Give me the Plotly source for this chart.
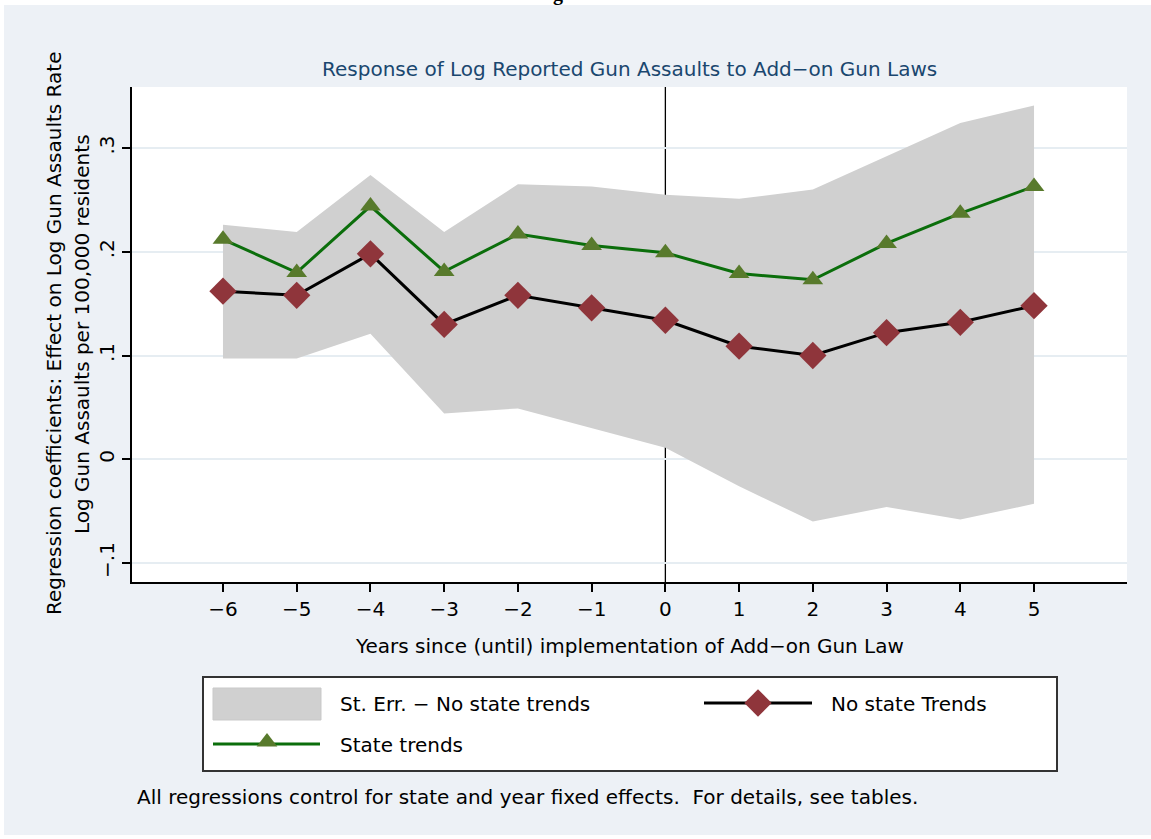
import plotly.graph_objects as go

# ---- data -------------------------------------------------------------
years = [-6, -5, -4, -3, -2, -1, 0, 1, 2, 3, 4, 5]
no_state_trends = [0.162, 0.158, 0.198, 0.130, 0.158, 0.146, 0.134, 0.109, 0.100, 0.122, 0.132, 0.148]
state_trends = [0.212, 0.180, 0.244, 0.181, 0.217, 0.206, 0.199, 0.179, 0.173, 0.208, 0.237, 0.263]
se_upper = [0.226, 0.219, 0.274, 0.219, 0.265, 0.263, 0.255, 0.251, 0.260, 0.292, 0.324, 0.341]
se_lower = [0.097, 0.097, 0.121, 0.044, 0.049, 0.030, 0.011, -0.026, -0.060, -0.046, -0.058, -0.043]

y_tick_vals = [-0.1, 0.0, 0.1, 0.2, 0.3]
y_tick_text = ["\u2212.1", "0", ".1", ".2", ".3"]
x_tick_text = [str(v).replace("-", "\u2212") for v in years]

# ---- styling ----------------------------------------------------------
W, H = 1151, 839
FONT = "DejaVu Sans, Liberation Sans, Arial, sans-serif"
FS = 20
BG = "#EDF1F6"
BAND = "#D0D0D0"
GRID = "#E6EDF2"
DIAMOND = "#8F353B"
TRI = "#587A2C"
GREEN = "#0B6E0B"
NAVY = "#1A476F"

# plot region in pixels
PX0, PX1, PY0, PY1 = 132, 1127, 87, 582
X_RANGE = [-7.234, 6.261]
Y_RANGE = [-0.1183, 0.3588]

DIAMOND_SIZE = 21
TRI_SIZE = 18


def fx(px):
    return px / W


def fy(py):
    return 1 - py / H


fig = go.Figure()

# standard-error band
fig.add_trace(go.Scatter(x=years, y=se_lower, mode="lines", line=dict(width=0, color=BAND),
                         hoverinfo="skip", showlegend=False))
fig.add_trace(go.Scatter(x=years, y=se_upper, mode="lines", line=dict(width=0, color=BAND),
                         fill="tonexty", fillcolor=BAND, name="St. Err. - No state trends",
                         showlegend=False))

# point estimates
fig.add_trace(go.Scatter(x=years, y=no_state_trends, mode="lines+markers", name="No state Trends",
                         line=dict(color="black", width=3),
                         marker=dict(symbol="diamond", size=DIAMOND_SIZE, color=DIAMOND,
                                     line=dict(width=0)),
                         showlegend=False))
fig.add_trace(go.Scatter(x=years, y=state_trends, mode="lines+markers", name="State trends",
                         line=dict(color=GREEN, width=3),
                         marker=dict(symbol="triangle-up", size=TRI_SIZE, color=TRI,
                                     line=dict(width=0)),
                         showlegend=False))

# ---- key (drawn on a pixel-space overlay axis) ------------------------
fig.add_trace(go.Scatter(x=[704, 812], y=[703, 703], xaxis="x2", yaxis="y2", mode="lines",
                         line=dict(color="black", width=3), hoverinfo="skip", showlegend=False))
fig.add_trace(go.Scatter(x=[758], y=[703], xaxis="x2", yaxis="y2", mode="markers",
                         marker=dict(symbol="diamond", size=DIAMOND_SIZE, color=DIAMOND),
                         hoverinfo="skip", showlegend=False))
fig.add_trace(go.Scatter(x=[213, 320], y=[744, 744], xaxis="x2", yaxis="y2", mode="lines",
                         line=dict(color=GREEN, width=3), hoverinfo="skip", showlegend=False))
fig.add_trace(go.Scatter(x=[267], y=[742], xaxis="x2", yaxis="y2", mode="markers",
                         marker=dict(symbol="triangle-up", size=TRI_SIZE, color=TRI),
                         hoverinfo="skip", showlegend=False))

shapes = [
    # outer white frame strips
    dict(type="rect", xref="paper", yref="paper", x0=0, x1=1, y0=fy(5), y1=1,
         fillcolor="white", line=dict(width=0), layer="below"),
    dict(type="rect", xref="paper", yref="paper", x0=0, x1=fx(4), y0=0, y1=1,
         fillcolor="white", line=dict(width=0), layer="below"),
    dict(type="rect", xref="paper", yref="paper", x0=0, x1=1, y0=0, y1=fy(835),
         fillcolor="white", line=dict(width=0), layer="below"),
    # plot region
    dict(type="rect", xref="paper", yref="paper", x0=fx(PX0), x1=fx(PX1), y0=fy(PY1), y1=fy(PY0),
         fillcolor="white", line=dict(width=0), layer="below"),
    # reference line at implementation year
    dict(type="line", xref="x", yref="paper", x0=0, x1=0, y0=fy(PY1), y1=fy(PY0),
         line=dict(color="black", width=1.3), layer="below"),
    # key box and band swatch
    dict(type="rect", xref="paper", yref="paper", x0=fx(203), x1=fx(1057), y0=fy(771), y1=fy(677),
         fillcolor="white", line=dict(color="#333333", width=2), layer="below"),
    dict(type="rect", xref="paper", yref="paper", x0=fx(213), x1=fx(321), y0=fy(720), y1=fy(688),
         fillcolor=BAND, line=dict(color="#C9C9C9", width=1), layer="below"),
]

txt = dict(family=FONT, size=FS, color="black")
annotations = [
    dict(text="Response of Log Reported Gun Assaults to Add\u2212on Gun Laws", x=fx(629), y=fy(69),
         xref="paper", yref="paper", showarrow=False, xanchor="center", yanchor="middle",
         font=dict(family=FONT, size=FS, color=NAVY)),
    dict(text="Years since (until) implementation of Add\u2212on Gun Law", x=fx(629), y=fy(646),
         xref="paper", yref="paper", showarrow=False, xanchor="center", yanchor="middle", font=txt),
    dict(text="Regression coefficients: Effect on Log Gun Assaults Rate", x=fx(54), y=fy(334),
         xref="paper", yref="paper", showarrow=False, textangle=-90, xanchor="center",
         yanchor="middle", font=txt),
    dict(text="Log Gun Assaults per 100,000 residents", x=fx(82), y=fy(334),
         xref="paper", yref="paper", showarrow=False, textangle=-90, xanchor="center",
         yanchor="middle", font=txt),
    dict(text="St. Err. \u2212 No state trends", x=fx(338), y=fy(704), xref="paper", yref="paper",
         showarrow=False, xanchor="left", yanchor="middle", font=txt),
    dict(text="No state Trends", x=fx(829), y=fy(704), xref="paper", yref="paper",
         showarrow=False, xanchor="left", yanchor="middle", font=txt),
    dict(text="State trends", x=fx(338), y=fy(745), xref="paper", yref="paper",
         showarrow=False, xanchor="left", yanchor="middle", font=txt),
    dict(text="All regressions control for state and year fixed effects.&nbsp; For details, see tables.",
         x=fx(135), y=fy(797), xref="paper", yref="paper", showarrow=False, xanchor="left",
         yanchor="middle", font=txt),
    dict(text="<b>g</b>", x=fx(558), y=fy(7), xref="paper", yref="paper", showarrow=False,
         xanchor="center", yanchor="bottom",
         font=dict(family="Liberation Serif, serif", size=20, color="black")),
]

fig.update_layout(
    width=W, height=H, autosize=False,
    margin=dict(l=0, r=0, t=0, b=0, pad=0),
    paper_bgcolor=BG, plot_bgcolor="rgba(0,0,0,0)",
    showlegend=False,
    shapes=shapes, annotations=annotations,
    xaxis=dict(domain=[fx(PX0), fx(PX1)], range=X_RANGE, tickmode="array", tickvals=years,
               ticktext=x_tick_text, ticks="outside", ticklen=8, tickwidth=1.5, tickcolor="black",
               showline=True, linecolor="black", linewidth=1.5, showgrid=False, zeroline=False,
               tickfont=txt, anchor="y", fixedrange=True),
    yaxis=dict(domain=[fy(PY1), fy(PY0)], range=Y_RANGE, tickmode="array", tickvals=y_tick_vals,
               ticktext=y_tick_text, tickangle=-90, ticks="outside", ticklen=8, tickwidth=1.5,
               tickcolor="black", showline=True, linecolor="black", linewidth=1.5,
               showgrid=True, gridcolor=GRID, gridwidth=1.5, zeroline=False,
               tickfont=txt, anchor="x", fixedrange=True),
    xaxis2=dict(domain=[0, 1], range=[0, W], visible=False, anchor="y2", fixedrange=True),
    yaxis2=dict(domain=[0, 1], range=[H, 0], visible=False, anchor="x2", fixedrange=True),
)

fig.write_html("out.html")
